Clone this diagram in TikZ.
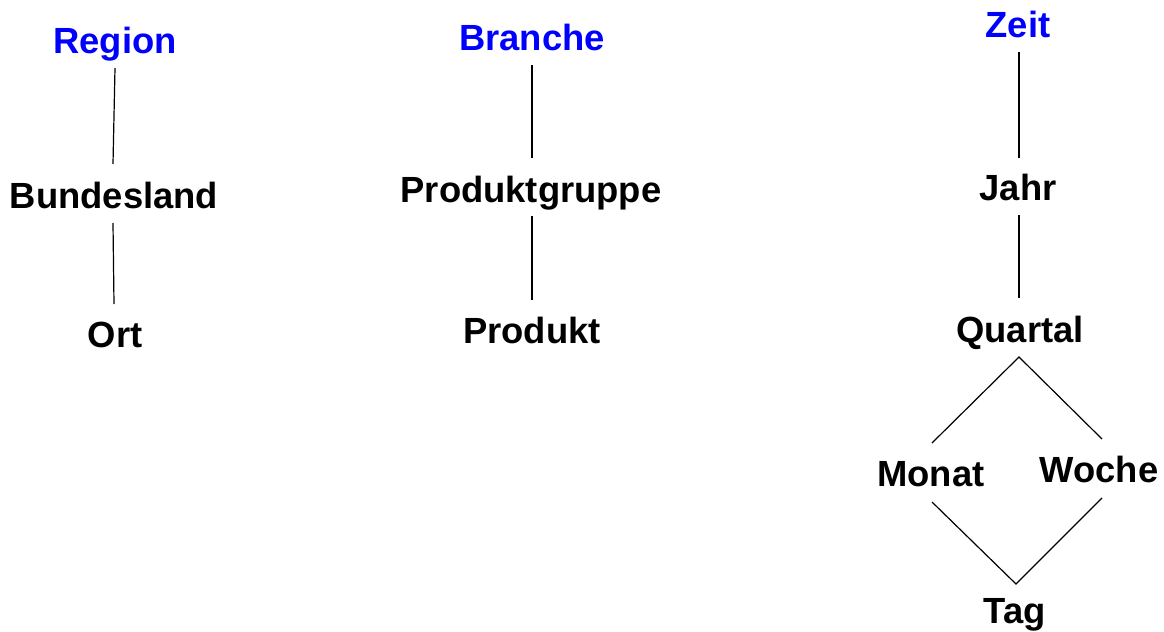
\documentclass[tikz,border=0pt]{standalone}
\usepackage{fontspec}
\setmainfont{Liberation Sans}
\usetikzlibrary{calc}
\definecolor{dimblue}{RGB}{0,0,255}
\tikzset{
  lbl/.style={anchor=base, inner sep=0pt, font=\fontsize{18.2}{20}\selectfont\bfseries, text=black},
  dim/.style={lbl, text=dimblue},
  edge/.style={draw=black, line width=0.6pt}
}
\begin{document}
\begin{tikzpicture}[x=0.5pt,y=-0.5pt]
\useasboundingbox (0,0) rectangle (1164,632);
% Region column
\node[dim] (reg) at (115,53) {Region};
\node[lbl] (bl) at (114,208) {Bundesland};
\node[lbl] (ort) at (115,347) {Ort};
% Branche column
\node[dim] (br) at (532,50) {Branche};
\node[lbl] (pg) at (531,202) {Produktgruppe};
\node[lbl] (pr) at (532,343) {Produkt};
% Zeit column
\node[dim] (ze) at (1018,37) {Zeit};
\node[lbl] (ja) at (1018,200) {Jahr};
\node[lbl] (qu) at (1020,342) {Quartal};
\node[lbl] (mo) at (931,486) {Monat};
\node[lbl] (wo) at (1099,482) {Woche};
\node[lbl] (tag) at (1015,623) {Tag};
% connectors
\draw[edge] ($(reg.base)+(0,15)$) -- ($(bl.base)+(-1,-44)$);
\draw[edge] ($(bl.base)+(-1,15)$) -- ($(ort.base)+(-1,-43)$);
\draw[edge] ($(br.base)+(0,15)$) -- ($(pg.base)+(1,-44)$);
\draw[edge] ($(pg.base)+(1,14)$) -- ($(pr.base)+(0,-43)$);
\draw[edge] ($(ze.base)+(1,15)$) -- ($(ja.base)+(1,-42)$);
\draw[edge] ($(ja.base)+(1,15)$) -- ($(qu.base)+(-1,-44)$);
\draw[edge] ($(mo.base)+(1,-43)$) -- ($(qu.base)+(-1,15)$) -- ($(wo.base)+(3,-43)$);
\draw[edge] ($(mo.base)+(1,16)$) -- ($(tag.base)+(1,-39)$) -- ($(wo.base)+(3,16)$);
\end{tikzpicture}
\end{document}
